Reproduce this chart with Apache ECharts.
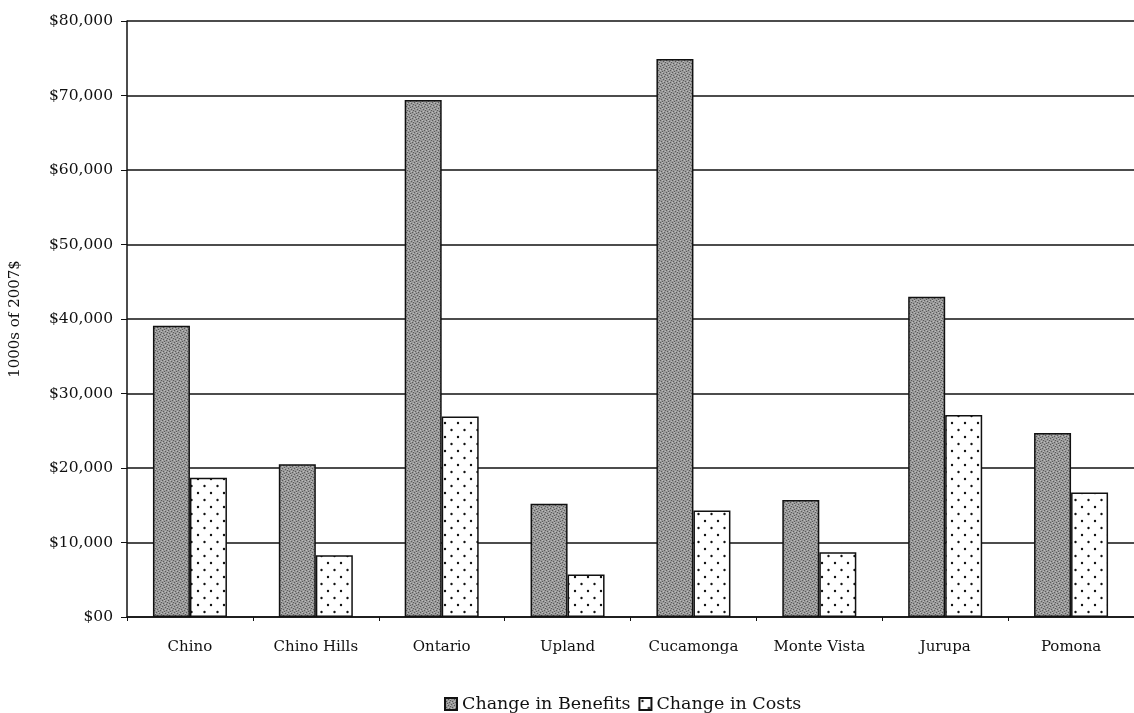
<!DOCTYPE html>
<html>
<head>
<meta charset="utf-8">
<script src="https://cdn.jsdelivr.net/npm/echarts@6/dist/echarts.min.js"></script>
<style>
html,body{margin:0;padding:0;background:#fff;}
#chart{width:1134px;height:713px;}
</style>
</head>
<body>
<div id="chart"></div>
<script>
const categories = ['Chino', 'Chino Hills', 'Ontario', 'Upland', 'Cucamonga', 'Monte Vista', 'Jurupa', 'Pomona'];
const benefits = [39100, 20500, 69400, 15200, 74900, 15700, 43000, 24700];
const costs = [18700, 8300, 26900, 5700, 14300, 8700, 27100, 16700];
const seriesNames = ['Change in Benefits', 'Change in Costs'];
const yAxisTitle = '1000s of 2007$';

function dotPattern() {
  const c = document.createElement('canvas');
  c.width = 13; c.height = 14;
  const g = c.getContext('2d');
  g.fillStyle = '#ffffff'; g.fillRect(0, 0, 13, 14);
  g.fillStyle = '#111111';
  g.beginPath(); g.arc(3, 3, 1.2, 0, Math.PI * 2); g.fill();
  g.beginPath(); g.arc(9.5, 10, 1.2, 0, Math.PI * 2); g.fill();
  return c;
}
function greyPattern() {
  const c = document.createElement('canvas');
  c.width = 6; c.height = 6;
  const g = c.getContext('2d');
  g.fillStyle = '#9a9a9a'; g.fillRect(0, 0, 6, 6);
  g.fillStyle = '#5a5a5a';
  [[0,0],[3,1],[1,3],[4,4],[2,5],[5,2]].forEach(p => g.fillRect(p[0], p[1], 1, 1));
  g.fillStyle = '#bdbdbd';
  [[2,0],[5,1],[0,4],[3,3]].forEach(p => g.fillRect(p[0], p[1], 1, 1));
  return c;
}

const font = 'DejaVu Serif';
const chart = echarts.init(document.getElementById('chart'));
chart.setOption({
  backgroundColor: '#ffffff',
  animation: false,
  grid: { left: 122, top: 21, width: 1021, height: 596, containLabel: false },
  legend: {
    data: seriesNames,
    left: 439, top: 690,
    itemWidth: 12, itemHeight: 12, itemGap: 8,
    textStyle: { fontFamily: font, fontSize: 17.5, color: '#111' },
    icon: 'rect'
  },
  xAxis: {
    type: 'category',
    data: categories,
    axisLine: { lineStyle: { color: '#111', width: 1.5 } },
    axisTick: { show: true, length: 4, lineStyle: { color: '#111' } },
    axisLabel: { fontFamily: font, fontSize: 15, color: '#111', margin: 23 }
  },
  yAxis: {
    type: 'value',
    min: 0, max: 80000, interval: 10000,
    name: yAxisTitle,
    nameLocation: 'middle',
    nameGap: 104,
    nameRotate: 90,
    nameTextStyle: { fontFamily: font, fontSize: 15, color: '#111' },
    axisLine: { show: true, lineStyle: { color: '#111', width: 1.5 } },
    axisTick: { show: true, length: 6, lineStyle: { color: '#111' } },
    splitLine: { show: true, lineStyle: { color: '#111', width: 1.5 } },
    axisLabel: {
      fontFamily: font, fontSize: 15.5, color: '#111', margin: 14,
      formatter: v => v === 0 ? '$00' : '$' + v.toLocaleString('en-US')
    }
  },
  series: [
    {
      name: seriesNames[0], type: 'bar', data: benefits,
      barWidth: 37, barGap: '0%',
      itemStyle: { color: { image: greyPattern(), repeat: 'repeat' }, borderColor: '#111', borderWidth: 1.5 }
    },
    {
      name: seriesNames[1], type: 'bar', data: costs,
      barWidth: 37, barGap: '0%',
      itemStyle: { color: { image: dotPattern(), repeat: 'repeat' }, borderColor: '#111', borderWidth: 1.5 }
    }
  ]
});
</script>
</body>
</html>
